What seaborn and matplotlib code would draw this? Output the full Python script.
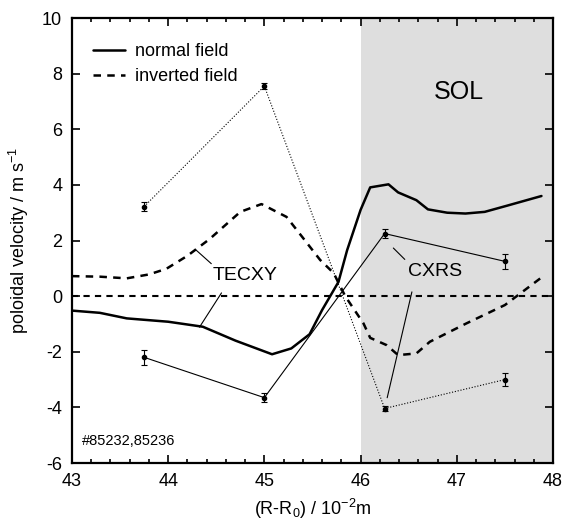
import numpy as np
import pandas as pd
import matplotlib
matplotlib.use("Agg")
import matplotlib.pyplot as plt
import seaborn as sns
from matplotlib.ticker import MultipleLocator
from matplotlib.lines import Line2D

# TECXY simulation, normal field
tecxy_normal_x = [43.0, 43.29, 43.57, 44.0, 44.36, 44.7, 45.08, 45.28, 45.47, 45.6, 45.77, 45.86,
                  46.0, 46.1, 46.29, 46.39, 46.58, 46.7, 46.9, 47.09, 47.29, 47.52, 47.88]
tecxy_normal_y = [-0.52, -0.6, -0.8, -0.92, -1.1, -1.6, -2.09, -1.88, -1.37, -0.5, 0.51, 1.65,
                  3.1, 3.91, 4.02, 3.73, 3.45, 3.12, 3.0, 2.97, 3.03, 3.25, 3.6]
# TECXY simulation, inverted field
tecxy_inv_x = [43.0, 43.29, 43.57, 43.8, 43.98, 44.2, 44.43, 44.75, 44.97, 45.23, 45.4, 45.58,
               45.72, 45.84, 46.03, 46.1, 46.27, 46.39, 46.58, 46.72, 47.1, 47.5, 47.88]
tecxy_inv_y = [0.72, 0.7, 0.64, 0.78, 0.98, 1.45, 2.05, 3.03, 3.31, 2.85, 2.1, 1.3,
               0.83, 0.0, -0.98, -1.5, -1.76, -2.12, -2.06, -1.64, -0.98, -0.32, 0.67]
# CXRS measurements
cxrs_x = [43.75, 45.0, 46.25, 47.5]
cxrs_normal_y = [-2.2, -3.65, 2.25, 1.25]
cxrs_normal_err = [0.28, 0.17, 0.15, 0.27]
cxrs_inv_y = [3.22, 7.55, -4.04, -3.0]
cxrs_inv_err = [0.15, 0.1, 0.1, 0.22]

sns.set_style("ticks")
plt.rcParams['font.family'] = ['Liberation Sans', 'DejaVu Sans']
plt.rcParams['mathtext.fontset'] = 'custom'
plt.rcParams['mathtext.rm'] = 'Liberation Sans'
plt.rcParams['axes.unicode_minus'] = False
for k in ['text.color', 'axes.labelcolor', 'xtick.color', 'ytick.color', 'axes.edgecolor']:
    plt.rcParams[k] = 'black'

fig = plt.figure(figsize=(5.62, 5.22), dpi=100)
ax = fig.add_axes([0.128, 0.113, 0.856, 0.8525])

ax.axvspan(46, 48, color='#dedede', lw=0, zorder=0)
ax.axhline(0, color='black', lw=1.5, ls=(0, (3.0, 2.5)), zorder=1)

df_n = pd.DataFrame({'x': tecxy_normal_x, 'y': tecxy_normal_y})
df_i = pd.DataFrame({'x': tecxy_inv_x, 'y': tecxy_inv_y})
sns.lineplot(data=df_n, x='x', y='y', ax=ax, color='black', lw=1.8, sort=False, zorder=3)
sns.lineplot(data=df_i, x='x', y='y', ax=ax, color='black', lw=1.8, sort=False, zorder=3,
             linestyle=(0, (3.0, 2.5)))

df_cn = pd.DataFrame({'x': cxrs_x, 'y': cxrs_normal_y})
df_ci = pd.DataFrame({'x': cxrs_x, 'y': cxrs_inv_y})
sns.lineplot(data=df_cn, x='x', y='y', ax=ax, color='black', lw=0.8, sort=False, zorder=3)
sns.lineplot(data=df_ci, x='x', y='y', ax=ax, color='black', lw=0.8, sort=False, zorder=3,
             linestyle=(0, (1.0, 1.6)))
ax.errorbar(cxrs_x, cxrs_normal_y, yerr=cxrs_normal_err, fmt='o', ms=3, color='black',
            ecolor='black', elinewidth=0.8, capsize=2.2, capthick=0.8, zorder=4)
ax.errorbar(cxrs_x, cxrs_inv_y, yerr=cxrs_inv_err, fmt='o', ms=3, color='black',
            ecolor='black', elinewidth=0.8, capsize=2.2, capthick=0.8, zorder=4)

ax.set_xlim(43, 48)
ax.set_ylim(-6, 10)
ax.xaxis.set_major_locator(MultipleLocator(1))
ax.xaxis.set_minor_locator(MultipleLocator(0.2))
ax.yaxis.set_major_locator(MultipleLocator(2))
ax.tick_params(which='both', direction='in', top=True, right=True, labelsize=13, width=1.2,
               color='black', labelcolor='black')
ax.tick_params(which='major', length=6, pad=7)
ax.tick_params(which='minor', length=3)
for s in ax.spines.values():
    s.set_linewidth(1.6)
    s.set_color('black')
    s.set_visible(True)

ax.set_xlabel(r'(R-R$_0$) / 10$^{-2}$m', fontsize=13, labelpad=5, color='black')
ax.set_ylabel(r'poloidal velocity / m s$^{-1}$', fontsize=13, labelpad=8, color='black')

handles = [Line2D([], [], color='black', lw=1.8),
           Line2D([], [], color='black', lw=1.8, ls=(0, (3.0, 2.5)))]
ax.legend(handles, ['normal field', 'inverted field'], loc='upper left', frameon=False,
          fontsize=13, handlelength=1.75, handletextpad=0.55, labelspacing=0.45,
          bbox_to_anchor=(0.01, 0.98), labelcolor='black')

ax.text(47.02, 7.35, 'SOL', fontsize=18, ha='center', va='center', color='black')
ax.text(44.8, 0.75, 'TECXY', fontsize=14, ha='center', va='center', color='black')
ax.text(46.77, 0.87, 'CXRS', fontsize=14, ha='center', va='center', color='black')
ax.text(43.1, -5.2, '#85232,85236', fontsize=10.5, ha='left', va='center', color='black')

# annotation leader lines
ax.annotate('', xy=(44.26, 1.75), xytext=(44.47, 1.1),
            arrowprops=dict(arrowstyle='-', lw=0.8, color='black'))
ax.annotate('', xy=(44.31, -1.2), xytext=(44.57, 0.2),
            arrowprops=dict(arrowstyle='-', lw=0.8, color='black'))
ax.annotate('', xy=(46.32, 1.8), xytext=(46.48, 1.25),
            arrowprops=dict(arrowstyle='-', lw=0.8, color='black'))
ax.annotate('', xy=(46.27, -3.75), xytext=(46.54, 0.25),
            arrowprops=dict(arrowstyle='-', lw=0.8, color='black'))

fig.savefig('out.png', dpi=100)
